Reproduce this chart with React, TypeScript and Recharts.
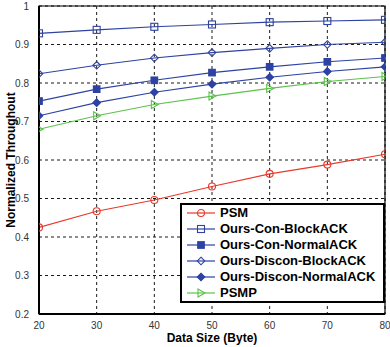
import { LineChart, Line, XAxis, YAxis, CartesianGrid, Label, ReferenceArea } from 'recharts';

const dataSize = [20, 30, 40, 50, 60, 70, 80];
const psm = [0.425, 0.467, 0.496, 0.531, 0.564, 0.588, 0.615];
const conBlockAck = [0.929, 0.938, 0.946, 0.952, 0.958, 0.961, 0.964];
const conNormalAck = [0.753, 0.784, 0.807, 0.827, 0.842, 0.855, 0.865];
const disconBlockAck = [0.824, 0.846, 0.865, 0.879, 0.89, 0.9, 0.906];
const disconNormalAck = [0.715, 0.749, 0.776, 0.797, 0.815, 0.83, 0.842];
const psmp = [0.68, 0.715, 0.744, 0.766, 0.786, 0.804, 0.817];

const yTicks = [0.2, 0.3, 0.4, 0.5, 0.6, 0.7, 0.8, 0.9, 1];

const RED = '#e8392b';
const BLUE = '#2d42a2';
const GREEN = '#5cc24c';
const FONT = '"Liberation Sans", Arial, sans-serif';

type Shape = 'circle' | 'square' | 'diamond' | 'triangle';

const series: { key: string; name: string; color: string; shape: Shape; filled: boolean; values: number[] }[] = [
  { key: 'psm', name: 'PSM', color: RED, shape: 'circle', filled: false, values: psm },
  { key: 'conBlock', name: 'Ours-Con-BlockACK', color: BLUE, shape: 'square', filled: false, values: conBlockAck },
  { key: 'conNormal', name: 'Ours-Con-NormalACK', color: BLUE, shape: 'square', filled: true, values: conNormalAck },
  { key: 'disconBlock', name: 'Ours-Discon-BlockACK', color: BLUE, shape: 'diamond', filled: false, values: disconBlockAck },
  { key: 'disconNormal', name: 'Ours-Discon-NormalACK', color: BLUE, shape: 'diamond', filled: true, values: disconNormalAck },
  { key: 'psmp', name: 'PSMP', color: GREEN, shape: 'triangle', filled: false, values: psmp },
];

const chartData = dataSize.map((x, i) => {
  const row: Record<string, number> = { x };
  series.forEach(s => {
    row[s.key] = s.values[i];
  });
  return row;
});

function marker(shape: Shape, color: string, filled: boolean, cx: number, cy: number, key?: string) {
  const fill = filled ? color : 'none';
  const common = { stroke: color, strokeWidth: 1.1, fill };
  if (shape === 'circle') return <circle key={key} cx={cx} cy={cy} r={3.5} {...common} />;
  if (shape === 'square') {
    const s = filled ? 3.3 : 3.5;
    return <rect key={key} x={cx - s} y={cy - s} width={s * 2} height={s * 2} {...common} />;
  }
  if (shape === 'diamond') {
    const s = 3.8;
    return <path key={key} d={`M${cx},${cy - s}L${cx + s},${cy}L${cx},${cy + s}L${cx - s},${cy}Z`} {...common} />;
  }
  return <path key={key} d={`M${cx - 3},${cy - 4}L${cx + 4},${cy}L${cx - 3},${cy + 4}Z`} {...common} />;
}

const makeDot = (shape: Shape, color: string, filled: boolean) => (props: any) =>
  marker(shape, color, filled, props.cx, props.cy, `dot-${props.index}`);

// legend box drawn over the plot, bottom right like the matlab figure
const LegendBox = () => (
  <div
    style={{
      position: 'absolute',
      left: 180,
      top: 203,
      border: '2px solid #000',
      background: '#fff',
      width: 205,
      height: 100,
      boxSizing: 'border-box',
      paddingLeft: 5,
      fontFamily: FONT,
      fontWeight: 'bold',
      fontSize: 13,
      lineHeight: '16px',
      color: '#000',
    }}
  >
    {series.map(s => (
      <div key={s.key} style={{ display: 'flex', alignItems: 'center', height: 16 }}>
        <svg width={28} height={12} style={{ marginRight: 5, flex: 'none' }}>
          <line x1={0} y1={6} x2={28} y2={6} stroke={s.color} strokeWidth={1.2} />
          {marker(s.shape, s.color, s.filled, 14, 6)}
        </svg>
        <span style={{ whiteSpace: 'nowrap' }}>{s.name}</span>
      </div>
    ))}
  </div>
);

export default function App() {
  return (
    <div style={{ position: 'absolute', left: 0, top: 0, width: 390, height: 347, background: '#fff' }}>
      <LineChart
        width={390}
        height={347}
        data={chartData}
        margin={{ top: 6, right: 5, bottom: 0, left: 0 }}
        style={{ fontFamily: FONT }}
      >
        <CartesianGrid stroke="#000" strokeDasharray="3 3" strokeWidth={0.9} />
        <XAxis
          dataKey="x"
          type="number"
          domain={[20, 80]}
          ticks={dataSize}
          height={33}
          axisLine={{ stroke: '#000', strokeWidth: 2 }}
          tickLine={false}
          tick={{ fill: '#333', fontSize: 10 }}
          tickMargin={2}
          allowDataOverflow
        >
          <Label
            value="Data Size (Byte)"
            position="insideBottom"
            offset={5}
            style={{ fill: '#000', fontWeight: 'bold', fontSize: 12 }}
          />
        </XAxis>
        <YAxis
          type="number"
          domain={[0.2, 1]}
          ticks={yTicks}
          width={39}
          axisLine={{ stroke: '#000', strokeWidth: 2 }}
          tickLine={false}
          tick={{ fill: '#333', fontSize: 10 }}
          tickMargin={4}
          tickFormatter={(v: number) => (v === 1 ? '1' : v.toFixed(1))}
          allowDataOverflow
        >
          <Label
            content={() => (
              <text
                x={11}
                y={160}
                transform="rotate(-90 11 160)"
                textAnchor="middle"
                dominantBaseline="central"
                style={{ fill: '#000', fontWeight: 'bold', fontSize: 12, fontFamily: FONT }}
              >
                Normalized Throughout
              </text>
            )}
          />
        </YAxis>
        <ReferenceArea x1={20} x2={80} y1={0.2} y2={1} fill="none" stroke="#000" strokeWidth={1.2} />
        {series.map(s => (
          <Line
            key={s.key}
            dataKey={s.key}
            name={s.name}
            stroke={s.color}
            strokeWidth={1.1}
            dot={makeDot(s.shape, s.color, s.filled)}
            activeDot={false}
            isAnimationActive={false}
          />
        ))}
      </LineChart>
      <LegendBox />
    </div>
  );
}
